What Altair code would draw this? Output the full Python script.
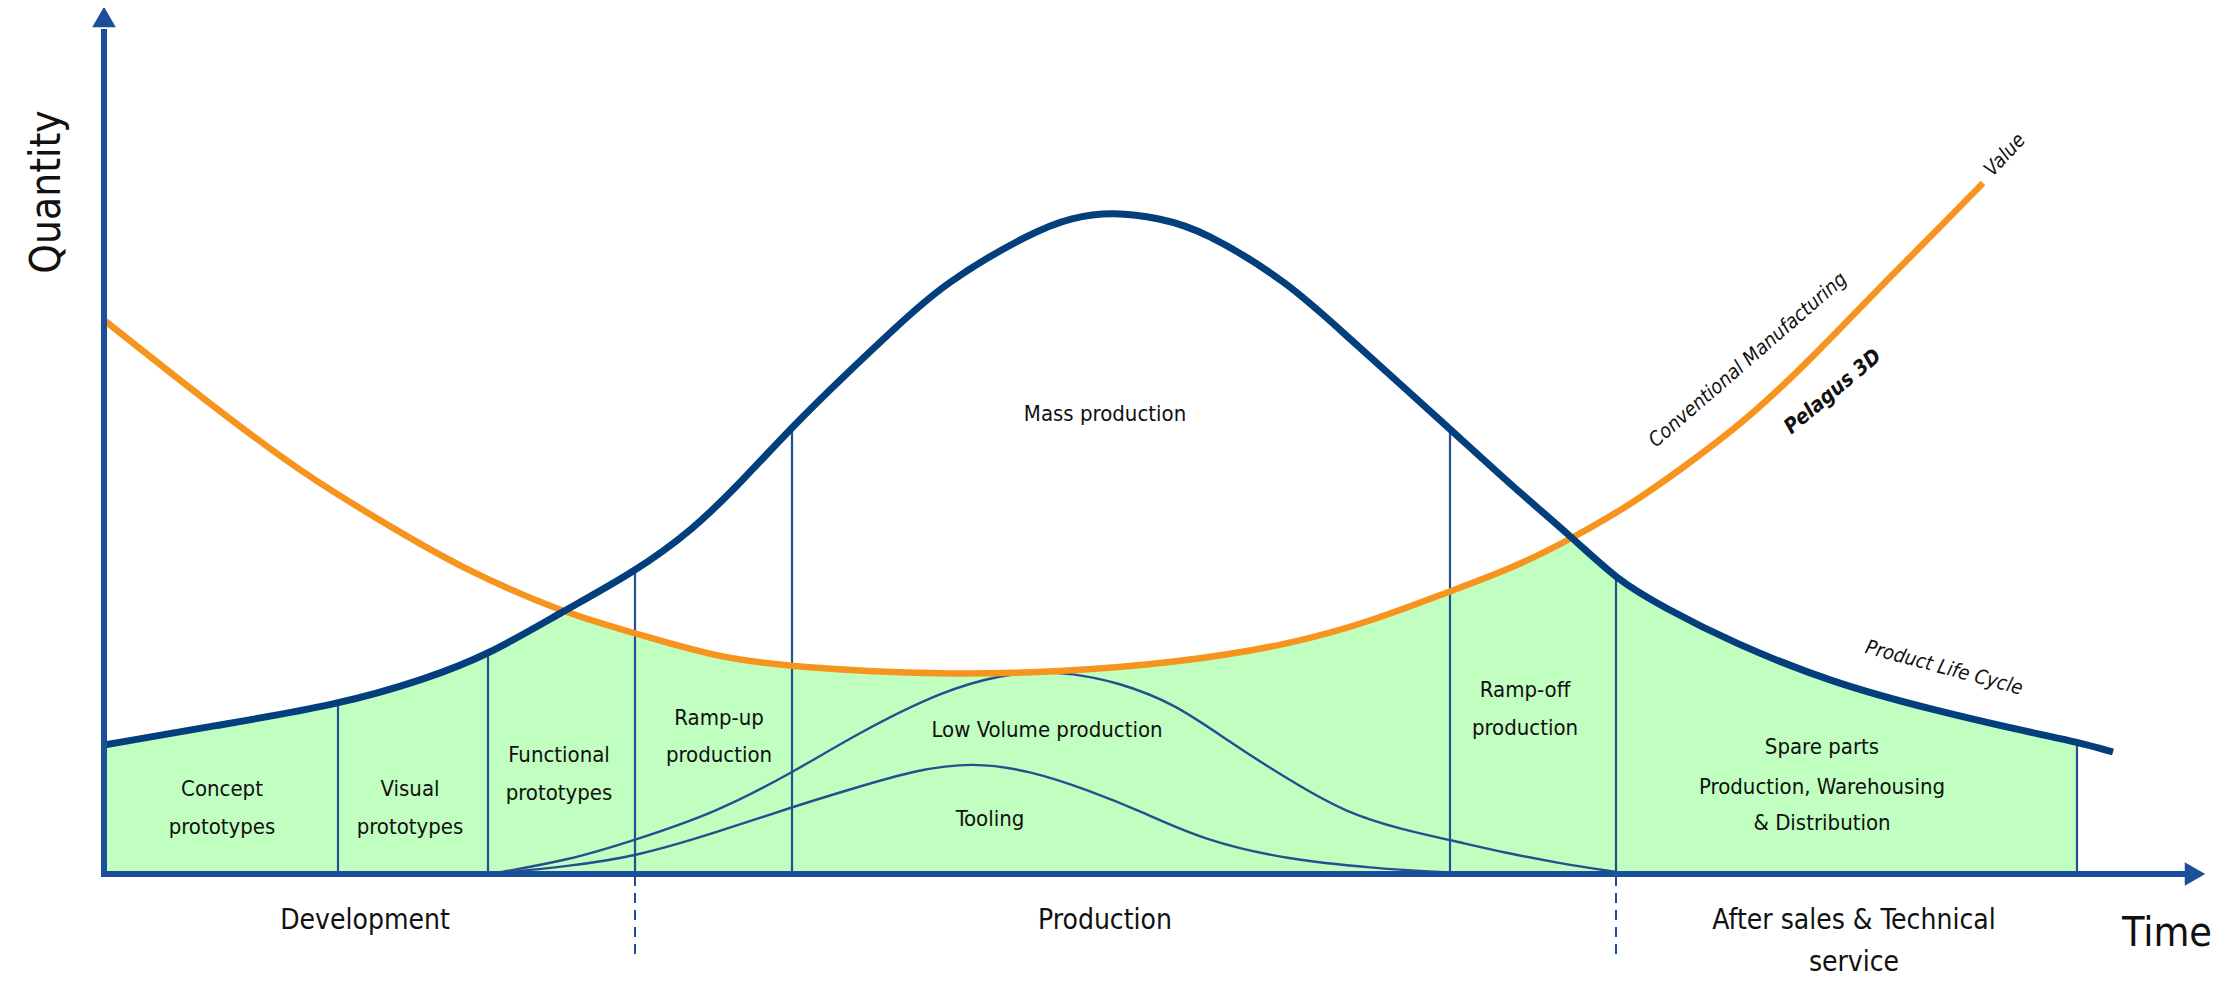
import altair as alt
import pandas as pd

# ---- data (x: time units, y: quantity units; origin at the axes' crossing) ----
plc_x = [0, 109, 234, 322, 384, 456, 529, 589, 639, 688, 739, 789, 840, 926, 968, 1010, 1055, 1099, 1185, 1236, 1344, 1409, 1469, 1513, 1559, 1629, 1729, 1829, 1929, 1973, 2009]
plc_y = [129, 148, 169, 195, 219, 261, 301, 344, 394, 447, 497, 544, 591, 641, 657, 662, 656, 644, 591, 544, 447, 387, 336, 294, 267, 231, 191, 164, 141, 132, 122]

value_x = [0, 97, 197, 297, 356, 456, 531, 610, 696, 840, 955, 1070, 1185, 1271, 1344, 1409, 1469, 1526, 1576, 1643, 1709, 1776, 1843, 1879]
value_y = [554, 477, 401, 341, 307, 262, 241, 217, 206, 199, 202, 211, 229, 254, 282, 306, 336, 369, 404, 454, 517, 587, 654, 691]

# green region: upper edge follows the lower of the two curves, in three pieces
green_x = [0, 109, 234, 322, 384, 456,
           456, 531, 610, 696, 840, 955, 1070, 1185, 1271, 1344, 1409, 1469,
           1469, 1513, 1559, 1629, 1729, 1829, 1929, 1973]
green_y = [129, 148, 169, 195, 219, 261,
           262, 241, 217, 206, 199, 202, 211, 229, 254, 282, 306, 336,
           336, 294, 267, 231, 191, 164, 141, 132]
green_seg = ["a"] * 6 + ["b"] * 12 + ["c"] * 8

lowvol_x = [386, 466, 531, 611, 688, 754, 840, 898, 932, 967, 1013, 1070, 1127, 1185, 1242, 1300, 1346, 1402, 1454, 1512]
lowvol_y = [0, 14, 34, 61, 101, 141, 184, 199, 202, 201, 192, 171, 131, 94, 61, 44, 34, 21, 11, 2]

tool_x = [386, 466, 530, 611, 688, 754, 812, 869, 927, 984, 1041, 1099, 1185, 1271, 1328, 1396]
tool_y = [0, 8, 17, 41, 67, 87, 104, 112, 103, 84, 61, 34, 14, 6, 2, 0]

stage_x = [234, 384, 531, 688, 1346, 1512, 1973]
stage_top = [169, 219, 302, 447, 447, 294, 132]

phase_x = [531, 1512]
phase_bottom = -80

inner_labels = ["Concept", "prototypes", "Visual", "prototypes", "Functional", "prototypes",
                "Ramp-up", "production", "Mass production", "Low Volume production", "Tooling",
                "Ramp-off", "production", "Spare parts", "Production, Warehousing", "& Distribution"]
inner_x = [118, 118, 306, 306, 455, 455, 615, 615, 1001, 943, 886, 1421, 1421, 1718, 1718, 1718]
inner_y = [85, 47, 85, 47, 119, 81, 156, 119, 460, 144, 55, 184, 146, 127, 87, 51]

phase_labels = ["Development", "Production", "After sales & Technical", "service"]
phase_lx = [261, 1001, 1750, 1750]
phase_ly = [-47, -47, -47, -89]

FONT = "'DejaVu Sans Condensed', 'DejaVu Sans', sans-serif"
NAVY = "#023f7c"
AXIS = "#1b4f99"
THIN = "#24508f"
ORANGE = "#f7941d"
GREEN = "#c0ffc0"
CURVE = "basis"

X = alt.Scale(domain=[-96, 2116], nice=False, zero=False)
Y = alt.Scale(domain=[-105, 866], nice=False, zero=False)


def enc(xf="x", yf="y"):
    return dict(x=alt.X(f"{xf}:Q", scale=X, axis=None), y=alt.Y(f"{yf}:Q", scale=Y, axis=None))


green_df = pd.DataFrame({"x": green_x, "y": green_y, "b": [0] * len(green_x), "seg": green_seg})
green = alt.Chart(green_df).mark_area(color=GREEN, interpolate=CURVE).encode(
    x=alt.X("x:Q", scale=X, axis=None), y=alt.Y("y:Q", scale=Y, axis=None, stack=None),
    y2="b:Q", detail="seg:N")

stages_df = pd.DataFrame({"x": stage_x, "y": stage_top, "b": [0] * len(stage_x)})
stages = alt.Chart(stages_df).mark_rule(color=THIN, strokeWidth=2.2).encode(**enc(), y2="b:Q")

phase_df = pd.DataFrame({"x": phase_x, "y": [phase_bottom] * len(phase_x), "b": [0] * len(phase_x)})
phases = alt.Chart(phase_df).mark_rule(color=AXIS, strokeWidth=2, strokeDash=[10, 7]).encode(
    **enc(), y2="b:Q")

low = alt.Chart(pd.DataFrame({"x": lowvol_x, "y": lowvol_y})).mark_line(
    color=THIN, strokeWidth=2.4, interpolate=CURVE).encode(**enc())
tool = alt.Chart(pd.DataFrame({"x": tool_x, "y": tool_y})).mark_line(
    color=THIN, strokeWidth=2.4, interpolate=CURVE).encode(**enc())
value = alt.Chart(pd.DataFrame({"x": value_x, "y": value_y})).mark_line(
    color=ORANGE, strokeWidth=6.5, interpolate=CURVE).encode(**enc())
plc = alt.Chart(pd.DataFrame({"x": plc_x, "y": plc_y})).mark_line(
    color=NAVY, strokeWidth=7, interpolate=CURVE).encode(**enc())

# axes with arrow heads
yaxis = alt.Chart(pd.DataFrame({"x": [0], "y": [-3], "y2": [845]})).mark_rule(
    color=AXIS, strokeWidth=6).encode(**enc(), y2="y2:Q")
xaxis = alt.Chart(pd.DataFrame({"x": [-3], "x2": [2085], "y": [0]})).mark_rule(
    color=AXIS, strokeWidth=6).encode(**enc(), x2="x2:Q")
up = alt.Chart(pd.DataFrame({"x": [0], "y": [857]})).mark_point(
    shape="triangle-up", size=560, filled=True, color=AXIS, opacity=1).encode(**enc())
right = alt.Chart(pd.DataFrame({"x": [2091], "y": [0]})).mark_point(
    shape="triangle-right", size=560, filled=True, color=AXIS, opacity=1).encode(**enc())

inner = alt.Chart(pd.DataFrame({"t": inner_labels, "x": inner_x, "y": inner_y})).mark_text(
    font=FONT, fontSize=22, color="#111111", baseline="middle").encode(**enc(), text="t:N")

phase_text = alt.Chart(pd.DataFrame({"t": phase_labels, "x": phase_lx, "y": phase_ly})).mark_text(
    font=FONT, fontSize=28, color="#111111", baseline="middle").encode(**enc(), text="t:N")

time_t = alt.Chart(pd.DataFrame({"t": ["Time"], "x": [2063], "y": [-60]})).mark_text(
    font=FONT, fontSize=41, color="#111111", baseline="middle").encode(**enc(), text="t:N")
qty_t = alt.Chart(pd.DataFrame({"t": ["Quantity"], "x": [-57], "y": [682]})).mark_text(
    font=FONT, fontSize=42, color="#111111", baseline="middle", angle=270).encode(**enc(), text="t:N")

rot_df = pd.DataFrame({"t": ["Product Life Cycle", "Conventional Manufacturing", "Value"],
                       "x": [1840, 1644, 1901], "y": [206, 514, 719], "a": [15, 319, 313]})
rot = alt.Chart(rot_df).mark_text(font=FONT, fontSize=20, fontStyle="italic", color="#111111",
                                  baseline="middle").encode(
    **enc(), text="t:N", angle=alt.Angle("a:Q", scale=None))
pel = alt.Chart(pd.DataFrame({"t": ["Pelagus 3D"], "x": [1729], "y": [482]})).mark_text(
    font=FONT, fontSize=21, fontStyle="italic", fontWeight="bold", color="#111111", baseline="middle",
    angle=320).encode(**enc(), text="t:N")

chart = alt.layer(green, stages, phases, low, tool, value, plc, yaxis, xaxis, up, right,
                  inner, phase_text, time_t, qty_t, rot, pel).properties(
    width=2212, height=971, padding=0, autosize=alt.AutoSizeParams(type="none")
).configure(background="white").configure_view(stroke=None, strokeWidth=0)

chart.save("out.html", embed_options={"renderer": "svg", "actions": False})
